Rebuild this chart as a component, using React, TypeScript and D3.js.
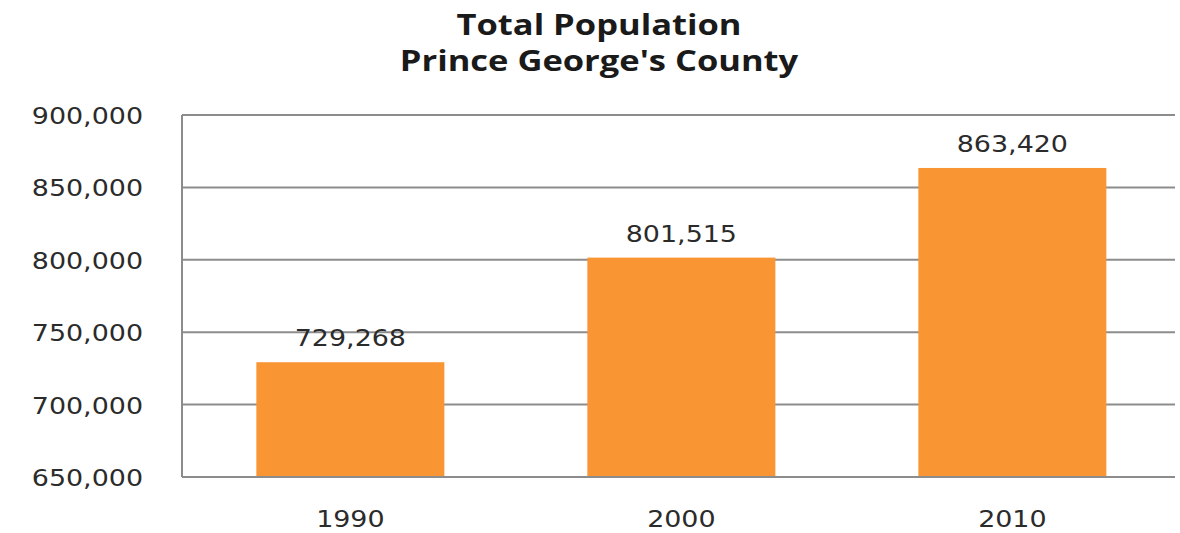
import React from "react";
import * as d3 from "d3";

const categories = ["1990", "2000", "2010"];
const populations = [729268, 801515, 863420];
const yTicks = [650000, 700000, 750000, 800000, 850000, 900000];
const titleLines = ["Total Population", "Prince George's County"];

const W = 1180;
const H = 533;
const plot = { left: 182, right: 1175, top: 115, bottom: 477 };
const BAR = "#F99533";
const GRID = "#8c8c8c";
const TEXT = "#2b2b2b";
const SX = 1.17;

export default function App() {
  const x = d3
    .scaleBand<string>()
    .domain(categories)
    .range([plot.left, plot.right])
    .paddingInner(0.432)
    .paddingOuter(0.216)
    .align(0.52);
  const y = d3.scaleLinear().domain([650000, 900000]).range([plot.bottom, plot.top]);
  const fmt = d3.format(",");

  return (
    <svg
      width={W}
      height={H}
      style={{ position: "absolute", left: 0, top: 0, background: "#fff" }}
      fontFamily="'DejaVu Sans', Verdana, sans-serif"
    >
      <rect width={W} height={H} fill="#fff" />
      {titleLines.map((t, i) => (
        <text
          key={t}
          transform={`translate(${599},${35 + i * 36}) scale(1.19,1)`}
          textAnchor="middle"
          fontFamily="'Open Sans', sans-serif"
          fontWeight="bold"
          fontSize={29}
          fill="#1a1a1a"
        >
          {t}
        </text>
      ))}
      {yTicks.map((v) => (
        <g key={v}>
          <line
            x1={plot.left}
            x2={plot.right}
            y1={y(v)}
            y2={y(v)}
            stroke={GRID}
            strokeWidth={2}
          />
          <text
            transform={`translate(143,${y(v) + 9}) scale(${SX},1)`}
            textAnchor="end"
            fontSize={23}
            fill={TEXT}
          >
            {fmt(v)}
          </text>
        </g>
      ))}
      <line
        x1={plot.left}
        x2={plot.left}
        y1={plot.top}
        y2={plot.bottom}
        stroke={GRID}
        strokeWidth={2}
      />
      {categories.map((c, i) => (
        <g key={c}>
          <rect
            x={x(c)!}
            y={y(populations[i])}
            width={x.bandwidth()}
            height={plot.bottom - y(populations[i])}
            fill={BAR}
          />
          <text
            transform={`translate(${x(c)! + x.bandwidth() / 2},${y(populations[i]) - 16}) scale(${SX},1)`}
            textAnchor="middle"
            fontSize={23}
            fill={TEXT}
          >
            {fmt(populations[i])}
          </text>
          <text
            transform={`translate(${x(c)! + x.bandwidth() / 2},527) scale(${SX},1)`}
            textAnchor="middle"
            fontSize={23}
            fill={TEXT}
          >
            {c}
          </text>
        </g>
      ))}
      <line
        x1={plot.left}
        x2={plot.right}
        y1={plot.bottom}
        y2={plot.bottom}
        stroke={GRID}
        strokeWidth={2}
      />
    </svg>
  );
}
